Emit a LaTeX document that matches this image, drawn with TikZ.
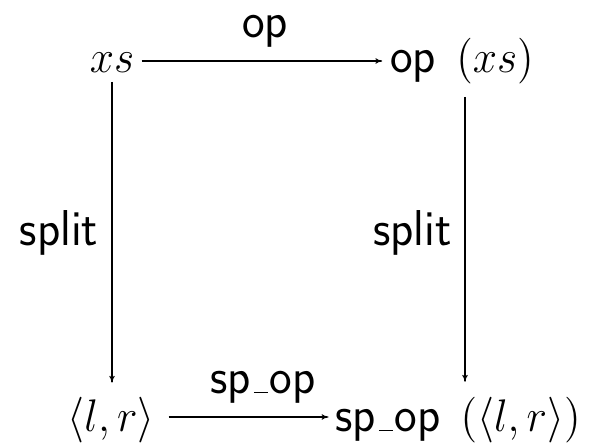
\RequirePackage{fix-cm}
\documentclass[tikz,border=0pt]{standalone}
\usepackage{graphicx}
\usetikzlibrary{arrows.meta}
\newcommand{\vst}[1]{\scalebox{1}[1.05]{#1}}
\newcommand{\mth}[1]{{\fontsize{14.5}{17}\selectfont$#1$}}
\newcommand{\usc}{\leavevmode\kern.06em\vbox{\hrule height 0.45pt width .3em}\kern.03em}
\begin{document}
\begin{tikzpicture}[x=0.3333pt,y=-0.3333pt,
  obj/.style={inner sep=0pt,outer sep=0pt,anchor=base,font=\fontsize{16}{19}\selectfont\sffamily},
  arr/.style={->,line width=0.35pt,>={To[length=2.3pt,width=1.8pt]}}]
\useasboundingbox (0,0) rectangle (594,442);
\node[obj] (xs) at (112,72) {\vst{\mth{xs}}};
\node[obj] (opxs) at (462,72) {\vst{op\hspace{0.42em}\mth{(xs)}}};
\node[obj] (lr) at (111,431) {\vst{\mth{\langle l,r\rangle}}};
\node[obj] (spop) at (458,431) {\vst{sp\usc op\hspace{0.42em}\mth{(\langle l,r\rangle)}}};
\draw[arr] ([xshift=2.5pt,yshift=3.67pt]xs.base east) -- ([xshift=-2.7pt,yshift=3.67pt]opxs.base west);
\draw[arr] ([yshift=-3.3pt]xs.south) -- ([yshift=4.7pt]xs.south |- lr.north);
\draw[arr] ([xshift=1pt,yshift=-4.5pt]opxs.south) -- ([xshift=1pt,yshift=5pt]opxs.south |- spop.north);
\draw[arr] ([xshift=4.7pt,yshift=4.67pt]lr.base east) -- ([xshift=-2.3pt,yshift=4.67pt]spop.base west);
\node[obj] (l1) at (265,37) {\vst{op}};
\node[obj] (l2) at (59,245) {\vst{split}};
\node[obj] (l3) at (412.5,245) {\vst{split}};
\node[obj] (l4) at (263,393) {\vst{sp\usc op}};
\end{tikzpicture}
\end{document}
